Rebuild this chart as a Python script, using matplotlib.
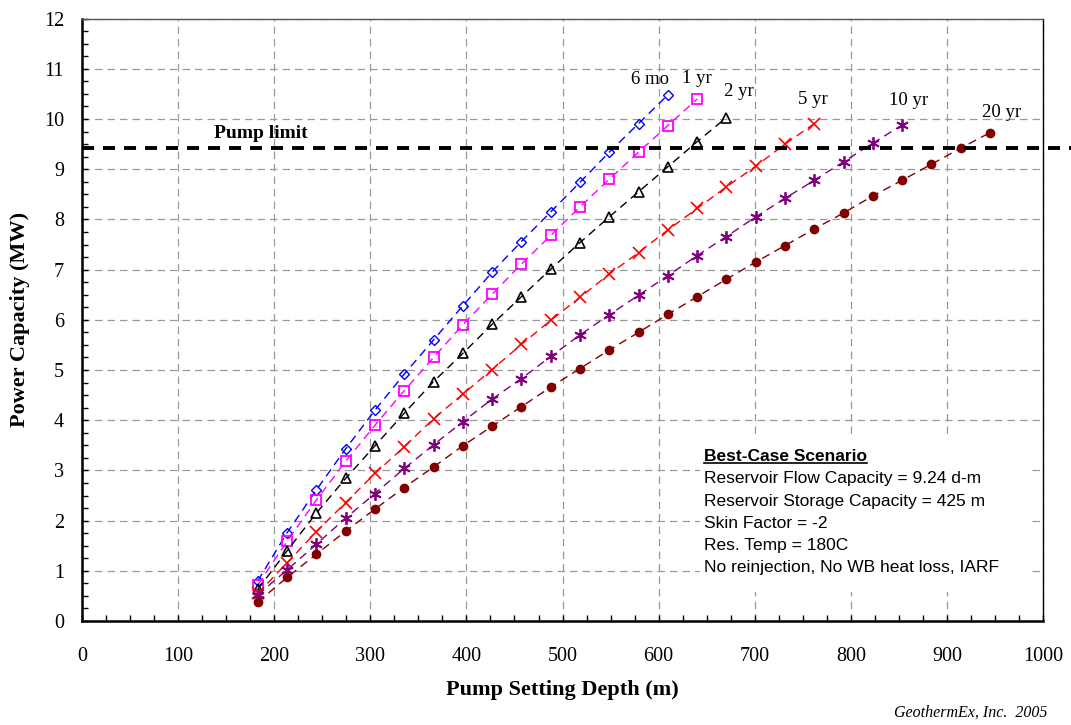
import numpy as np
import matplotlib
matplotlib.use("Agg")
import matplotlib.pyplot as plt
from matplotlib.ticker import MultipleLocator
from matplotlib.patches import Rectangle

# depths: every 100 ft, in metres
depth = [182.9, 213.4, 243.8, 274.3, 304.8, 335.3, 365.8, 396.2, 426.7, 457.2,
         487.7, 518.2, 548.6, 579.1, 609.6, 640.1, 670.6, 701.0, 731.5, 762.0,
         792.5, 823.0, 853.4, 883.9, 914.4, 944.9]

mo6 = [0.80, 1.76, 2.61, 3.43, 4.20, 4.92, 5.60, 6.28, 6.95, 7.56, 8.15, 8.74,
       9.34, 9.91, 10.48]
yr1 = [0.72, 1.59, 2.41, 3.18, 3.90, 4.59, 5.25, 5.90, 6.51, 7.11, 7.68, 8.25,
       8.80, 9.34, 9.87, 10.40]
yr2 = [0.63, 1.40, 2.15, 2.84, 3.49, 4.14, 4.77, 5.33, 5.91, 6.46, 7.01, 7.54,
       8.05, 8.55, 9.05, 9.55, 10.03]
yr5 = [0.55, 1.16, 1.78, 2.36, 2.94, 3.47, 4.03, 4.52, 5.01, 5.51, 5.99, 6.45,
       6.91, 7.34, 7.79, 8.22, 8.65, 9.06, 9.50, 9.91]
yr10 = [0.52, 1.02, 1.53, 2.05, 2.54, 3.04, 3.51, 3.97, 4.42, 4.83, 5.27, 5.70,
        6.10, 6.49, 6.88, 7.28, 7.66, 8.05, 8.42, 8.78, 9.15, 9.52, 9.88]
yr20 = [0.38, 0.87, 1.33, 1.79, 2.23, 2.66, 3.07, 3.49, 3.88, 4.27, 4.66, 5.03,
        5.40, 5.75, 6.11, 6.46, 6.81, 7.15, 7.48, 7.81, 8.13, 8.47, 8.78, 9.10,
        9.42, 9.73]

pump_limit = 9.42
labels = ["6 mo", "1 yr", "2 yr", "5 yr", "10 yr", "20 yr"]
label_pos = [(591, 10.78), (640, 10.80), (683, 10.54), (761, 10.38), (860, 10.36), (957, 10.14)]

box_lines = ["Reservoir Flow Capacity = 9.24 d-m",
             "Reservoir Storage Capacity = 425 m",
             "Skin Factor = -2",
             "Res. Temp = 180C",
             "No reinjection, No WB heat loss, IARF"]

serif = "Liberation Serif"
sans = "Liberation Sans"

fig = plt.figure(figsize=(10.71, 7.25), dpi=100)
ax = fig.add_axes([0.0766, 0.1434, 0.8973, 0.8309])

series = [
    (mo6, "#0000ff", dict(marker="D", ms=5, mfc="none", mew=1.0)),
    (yr1, "#ff00ff", dict(marker="s", ms=7, mfc="none", mew=1.3)),
    (yr2, "#000000", dict(marker="^", ms=7, mfc="none", mew=1.2)),
    (yr5, "#ff0000", dict(marker="x", ms=8, mew=1.2)),
    (yr10, "#800080", dict(marker=(6, 2, 0), ms=9, mew=1.3)),
    (yr20, "#800000", dict(marker="o", ms=7, mfc="#800000", mew=0)),
]
for vals, col, mk in series:
    ax.plot(depth[:len(vals)], vals, color=col, lw=1.0, dashes=(6, 4), zorder=3, **mk)

ax.plot([0, 1030], [pump_limit, pump_limit], color="black", lw=2.8,
        dashes=(3.1, 2.3), clip_on=False, zorder=4)
ax.text(186, 9.72, "Pump limit", family=serif, weight="bold", fontsize=14,
        ha="center", va="center")

for lab, (lx, ly) in zip(labels, label_pos):
    ax.text(lx, ly, lab, family=serif, fontsize=13.5, ha="center", va="center")

ax.set_xlim(0, 1000)
ax.set_ylim(0, 12)
ax.xaxis.set_major_locator(MultipleLocator(100))
ax.xaxis.set_minor_locator(MultipleLocator(25))
ax.yaxis.set_major_locator(MultipleLocator(1))
ax.yaxis.set_minor_locator(MultipleLocator(0.25))
ax.tick_params(which="both", direction="in", length=4, width=1, color="black")
ax.tick_params(axis="x", which="major", pad=19, labelsize=14.5)
ax.tick_params(axis="y", which="major", pad=13, labelsize=14.5)
for t in ax.get_xticklabels() + ax.get_yticklabels():
    t.set_family(serif)

ax.grid(True, which="major", color="#9a9a9a", lw=0.9, dashes=(6, 4))
ax.set_axisbelow(True)
ax.spines["left"].set_linewidth(1.8)
ax.spines["bottom"].set_linewidth(1.8)
ax.spines["right"].set_linewidth(1.0)
ax.spines["top"].set_linewidth(1.0)
ax.spines["top"].set_color("#555555")

ax.set_xlabel("Pump Setting Depth (m)", family=serif, weight="bold", fontsize=16, labelpad=10)
ax.set_ylabel("Power Capacity (MW)", family=serif, weight="bold", fontsize=16, labelpad=10)

# scenario box: white background hides the grid
ax.add_patch(Rectangle((643, 0.58), 341, 3.07, facecolor="white", edgecolor="none", zorder=1.5))
title = ax.text(647, 3.27, "Best-Case Scenario", family=sans, weight="bold",
                fontsize=12.5, ha="left", va="center", zorder=5)
for i, line in enumerate(box_lines):
    ax.text(647, 2.83 - 0.44 * i, line, family=sans, fontsize=12.5, ha="left",
            va="center", zorder=5)

fig.canvas.draw()
bb = title.get_window_extent().transformed(fig.transFigure.inverted())
fig.add_artist(plt.Line2D([bb.x0, bb.x1], [bb.y0 + 0.002, bb.y0 + 0.002],
                          color="black", lw=1.2, transform=fig.transFigure))

fig.text(0.978, 0.0166, "GeothermEx, Inc.  2005", family=serif, style="italic",
         fontsize=11.5, ha="right", va="center")

fig.savefig("out.png", dpi=100)
